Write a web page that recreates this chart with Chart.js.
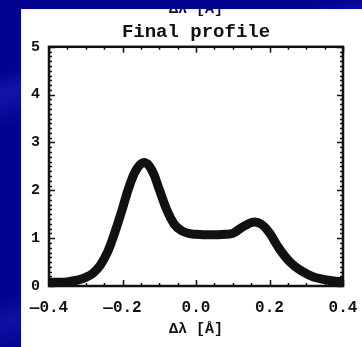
<!DOCTYPE html>
<html lang="en">
    <head>
        <meta charset="UTF-8" />
        <title>Final profile</title>
        <style>
            body {
                margin: 0;
                width: 362px;
                height: 347px;
                overflow: hidden;
                background:
                    linear-gradient(168deg,
                        rgba(40, 40, 190, 0) 0%,
                        rgba(40, 40, 190, 0) 17%,
                        rgba(40, 40, 200, 0.45) 22%,
                        rgba(40, 40, 190, 0) 30%,
                        rgba(40, 40, 190, 0) 70%,
                        rgba(40, 40, 200, 0.35) 76%,
                        rgba(40, 40, 190, 0) 84%),
                    #03038f;
                position: relative;
            }

            #wrap {
                position: absolute;
                left: 21px;
                top: 9px;
                width: 341px;
                height: 338px;
                background: #fff;
            }
        </style>
        <script src="https://cdn.jsdelivr.net/npm/chart.js"></script>
    </head>
    <body>
        <div id="wrap"><canvas id="chart" width="341" height="338"></canvas></div>
        <script>
            // wavelength offset (Å) and normalised profile
            const dLambda = [
                -0.40, -0.38, -0.36, -0.34, -0.32, -0.30, -0.28, -0.26, -0.24, -0.22,
                -0.20, -0.18, -0.16, -0.14, -0.12, -0.10, -0.08, -0.06, -0.04, -0.02,
                0.00, 0.02, 0.04, 0.06, 0.08, 0.10, 0.12, 0.14, 0.16, 0.18,
                0.20, 0.22, 0.24, 0.26, 0.28, 0.30, 0.32, 0.34, 0.36, 0.38, 0.40,
            ];
            const profile = [
                0.08, 0.08, 0.08, 0.10, 0.13, 0.18, 0.27, 0.44, 0.72, 1.14,
                1.62, 2.12, 2.46, 2.58, 2.42, 2.02, 1.60, 1.30, 1.16, 1.10,
                1.08, 1.07, 1.07, 1.07, 1.08, 1.10, 1.20, 1.29, 1.34, 1.28,
                1.11, 0.86, 0.64, 0.47, 0.35, 0.26, 0.19, 0.15, 0.12, 0.10, 0.09,
            ];
            const xTicks = [-0.4, -0.2, 0.0, 0.2, 0.4];
            const yTicks = [0, 1, 2, 3, 4, 5];

            const FONT = "'Liberation Mono', 'DejaVu Sans Mono', monospace";

            // IDL-style frame: box on all four sides with inward major/minor ticks
            const framePlugin = {
                id: "frame",
                afterDraw(chart) {
                    const { ctx, chartArea: a, scales } = chart;
                    const xs = scales.x, ys = scales.y;
                    ctx.save();
                    ctx.strokeStyle = "#111";
                    ctx.lineWidth = 1.5;
                    for (let i = 0; i <= 16; i++) {
                        const v = -0.4 + i * 0.05;
                        const px = Math.round(xs.getPixelForValue(v)) + 0.5;
                        const len = i % 4 === 0 ? 6 : 3;
                        ctx.beginPath();
                        ctx.moveTo(px, a.bottom);
                        ctx.lineTo(px, a.bottom - len);
                        ctx.moveTo(px, a.top);
                        ctx.lineTo(px, a.top + len);
                        ctx.stroke();
                    }
                    for (let i = 0; i <= 50; i++) {
                        const py = Math.round(ys.getPixelForValue(i / 10)) + 0.5;
                        const len = i % 10 === 0 ? 6 : 3;
                        ctx.beginPath();
                        ctx.moveTo(a.left, py);
                        ctx.lineTo(a.left + len, py);
                        ctx.moveTo(a.right, py);
                        ctx.lineTo(a.right - len, py);
                        ctx.stroke();
                    }
                    ctx.lineWidth = 2.5;
                    ctx.strokeRect(a.left, a.top, a.right - a.left, a.bottom - a.top);

                    // axis label of the panel above, cut off by the page edge
                    ctx.fillStyle = "#111";
                    ctx.font = "bold 15px " + FONT;
                    ctx.textAlign = "center";
                    ctx.textBaseline = "alphabetic";
                    ctx.fillText("Δλ [Å]", (a.left + a.right) / 2, 4);
                    ctx.restore();
                },
            };

            new Chart(document.getElementById("chart"), {
                type: "line",
                data: {
                    datasets: [
                        {
                            data: dLambda.map((x, i) => ({ x: x, y: profile[i] })),
                            borderColor: "#111",
                            borderWidth: 9,
                            pointRadius: 0,
                            tension: 0.4,
                            borderCapStyle: "round",
                            borderJoinStyle: "round",
                        },
                    ],
                },
                options: {
                    responsive: false,
                    animation: false,
                    layout: {
                        autoPadding: false,
                        padding: { left: 0, right: 19, top: 0, bottom: 0 },
                    },
                    plugins: {
                        legend: { display: false },
                        tooltip: { enabled: false },
                        title: {
                            display: true,
                            fullSize: false,
                            text: "Final profile",
                            color: "#111",
                            font: { family: FONT, size: 19, weight: "bold" },
                            padding: { top: 12, bottom: 3 },
                        },
                    },
                    scales: {
                        x: {
                            type: "linear",
                            min: -0.4,
                            max: 0.4,
                            afterBuildTicks: (s) => {
                                s.ticks = xTicks.map((v) => ({ value: v }));
                            },
                            afterFit: (s) => {
                                s.height = 61;
                                s.paddingLeft = 0;
                                s.paddingRight = 0;
                            },
                            ticks: {
                                color: "#111",
                                padding: 12,
                                maxRotation: 0,
                                font: { family: FONT, size: 16, weight: "bold" },
                                callback: (v) => (v < 0 ? "\u2014" : "") + Math.abs(v).toFixed(1),
                            },
                            grid: { display: false, drawTicks: false },
                            border: { display: false },
                            title: {
                                display: true,
                                text: "Δλ [Å]",
                                color: "#111",
                                font: { family: FONT, size: 15, weight: "bold" },
                                padding: { top: 0, bottom: 9 },
                            },
                        },
                        y: {
                            min: 0,
                            max: 5,
                            afterBuildTicks: (s) => {
                                s.ticks = yTicks.map((v) => ({ value: v }));
                            },
                            afterFit: (s) => {
                                s.width = 28;
                                s.paddingTop = 0;
                                s.paddingBottom = 0;
                            },
                            ticks: {
                                color: "#111",
                                padding: 9,
                                font: { family: FONT, size: 15, weight: "bold" },
                            },
                            grid: { display: false, drawTicks: false },
                            border: { display: false },
                        },
                    },
                },
                plugins: [framePlugin],
            });
        </script>
    </body>
</html>
